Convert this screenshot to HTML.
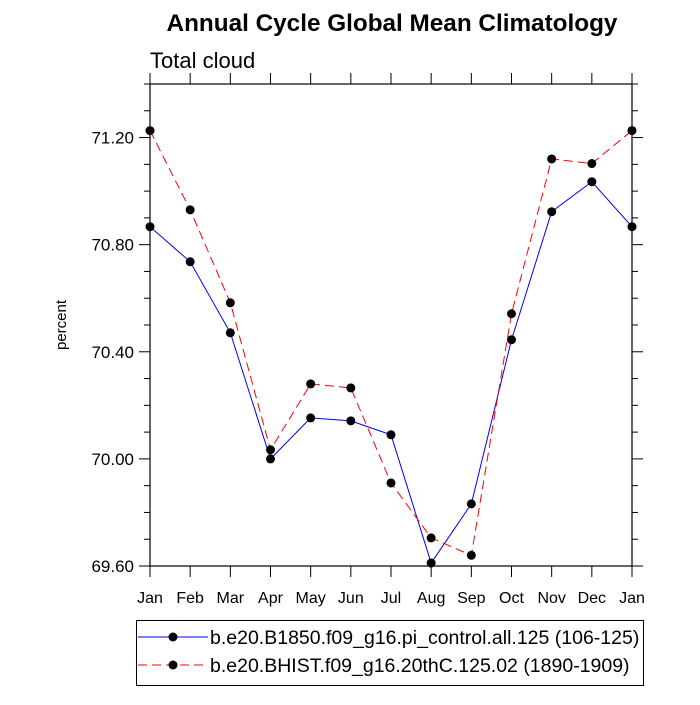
<!DOCTYPE html>
<html><head><meta charset="utf-8"><style>
body{margin:0;background:#fff;}
svg text{font-family:"Liberation Sans",sans-serif;}
</style></head><body>
<svg id="chart" width="700" height="700" xmlns="http://www.w3.org/2000/svg">
<text x="392" y="31" text-anchor="middle" font-size="24.3" font-weight="bold">Annual Cycle Global Mean Climatology</text>
<text x="150" y="68" font-size="22">Total cloud</text>
<text transform="translate(66,325) rotate(-90)" text-anchor="middle" font-size="15">percent</text>
<g id="axes"></g>
<g id="series"></g>
<g>
<rect x="136.5" y="620.5" width="507" height="65" fill="none" stroke="#000" stroke-width="1"/>
<line x1="138" y1="637" x2="208" y2="637" stroke="#0000ff" stroke-width="1"/>
<circle cx="173" cy="637" r="4.5" fill="#000"/>
<text x="210" y="644" font-size="19.5">b.e20.B1850.f09_g16.pi_control.all.125 (106-125)</text>
<line x1="138" y1="665" x2="208" y2="665" stroke="#ff0000" stroke-width="1" stroke-dasharray="9,5"/>
<circle cx="173" cy="665" r="4.5" fill="#000"/>
<text x="210" y="672" font-size="19.5">b.e20.BHIST.f09_g16.20thC.125.02 (1890-1909)</text>
</g>
</svg>
<script>
const months=["Jan","Feb","Mar","Apr","May","Jun","Jul","Aug","Sep","Oct","Nov","Dec","Jan"];
const seriesB1850=[70.867,70.736,70.471,70.00,70.153,70.142,70.09,69.611,69.832,70.445,70.923,71.035,70.867];
const seriesBHIST=[71.226,70.93,70.583,70.034,70.28,70.265,69.91,69.705,69.64,70.542,71.12,71.103,71.226];
const yTicks=[69.60,70.00,70.40,70.80,71.20];
const yTickLabels=["69.60","70.00","70.40","70.80","71.20"];
const L=150,R=632,T=84,B=566,YMIN=69.60,YMAX=71.40;
const xS=i=>L+(R-L)*i/(months.length-1);
const yS=v=>B-(v-YMIN)/(YMAX-YMIN)*(B-T);
const NS="http://www.w3.org/2000/svg";
function mk(tag,attrs,parent){const e=document.createElementNS(NS,tag);for(const k in attrs)e.setAttribute(k,attrs[k]);parent.appendChild(e);return e;}
const ax=document.getElementById("axes");
const frame=mk("rect",{x:L,y:T,width:R-L,height:B-T,fill:"none",stroke:"#000","stroke-width":1.2},ax);


for(let v=YMIN;v<=YMAX+1e-6;v+=0.1){
  const y=yS(v);const major=Math.abs(((v-YMIN)/0.4)-Math.round((v-YMIN)/0.4))<1e-6;
  const len=major?11:6;
  mk("line",{x1:L-len,y1:y,x2:L,y2:y,stroke:"#000","stroke-width":1},ax);
  mk("line",{x1:R,y1:y,x2:R+len,y2:y,stroke:"#000","stroke-width":1},ax);
}
yTicks.forEach((v,i)=>{
  const t=mk("text",{x:L-16,y:yS(v)+6,"text-anchor":"end","font-size":17},ax);
  t.textContent=yTickLabels[i];
  
  
});
months.forEach((m,i)=>{
  const x=xS(i);
  mk("line",{x1:x,y1:B,x2:x,y2:B+11,stroke:"#000","stroke-width":1},ax);
  mk("line",{x1:x,y1:T-11,x2:x,y2:T,stroke:"#000","stroke-width":1},ax);
  const t=mk("text",{x:x,y:B+37,"text-anchor":"middle","font-size":16},ax);
  t.textContent=m;
  
  
});
const sg=document.getElementById("series");
function draw(vals,color,dash,name){
  const pts=vals.map((v,i)=>xS(i)+","+yS(v)).join(" ");
  const pl=mk("polyline",{points:pts,fill:"none",stroke:color,"stroke-width":1,"stroke-dasharray":dash},sg);
  
  
  vals.forEach((v,i)=>{
    const c=mk("circle",{cx:xS(i),cy:yS(v),r:4.5,fill:"#000"},sg);
    
    
  });
}
draw(seriesB1850,"#0000ff","none","b1850");
draw(seriesBHIST,"#ff0000","9,5","bhist");
</script>
</body></html>
